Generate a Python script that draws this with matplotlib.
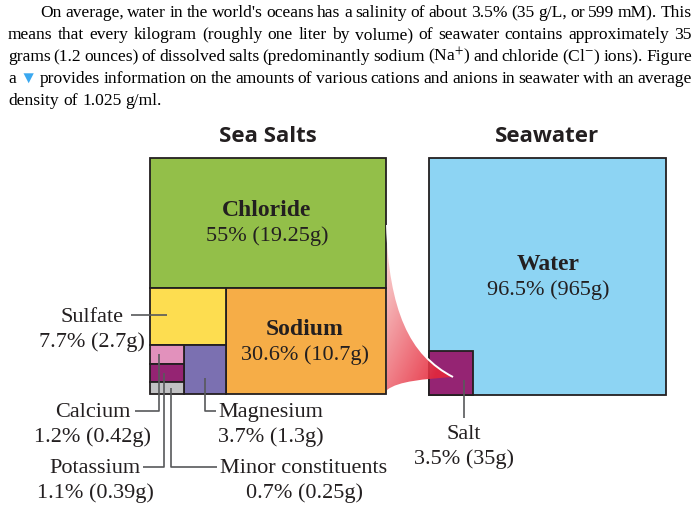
import numpy as np
import matplotlib.pyplot as plt
from matplotlib.patches import Rectangle, PathPatch
from matplotlib.path import Path

plt.rcParams['mathtext.fontset'] = 'stix'

# Datos
salt_names = ['Chloride', 'Sodium', 'Sulfate', 'Magnesium', 'Calcium', 'Potassium', 'Minor constituents']
salt_pct = [55, 30.6, 7.7, 3.7, 1.2, 1.1, 0.7]
salt_grams = [19.25, 10.7, 2.7, 1.3, 0.42, 0.39, 0.25]
salt_colors = ['#93bf49', '#f6ad47', '#fddd50', '#7b70b1', '#e291bc', '#952473', '#c1c1c3']

water_names = ['Water', 'Salt']
water_pct = [96.5, 3.5]
water_grams = [965, 35]
water_colors = ['#8dd4f3', '#952473']

para_lines = [
    "On average, water in the world's oceans has a salinity of about 3.5% (35 g/L, or 599 mM). This",
    "means that every kilogram (roughly one liter by volume) of seawater contains approximately 35",
    "grams (1.2 ounces) of dissolved salts (predominantly sodium (Na$^{+}$) and chloride (Cl$^{-}$) ions). Figure",
    "a \u25BC provides information on the amounts of various cations and anions in seawater with an average",
    "density of 1.025 g/ml.",
]

INK = '#231f20'
SERIF = ['Liberation Serif', 'DejaVu Serif']

fig = plt.figure(figsize=(7, 5.09), dpi=100)
ax = fig.add_axes([0, 0, 1, 1])
ax.set_xlim(0, 700)
ax.set_ylim(509, 0)
ax.axis('off')

# --- parrafo justificado ---
r = fig.canvas.get_renderer()
fs = 13
probe = [ax.text(0, 0, l, fontsize=fs, family=SERIF) for l in para_lines[:4]]
nat = [t.get_window_extent(r).width for t in probe]
for t in probe:
    t.remove()
targets = [650, 684, 684, 684]
ratio = max(n / tw for n, tw in zip(nat, targets))
if ratio > 1.02:
    fs = fs * 1.02 / ratio

baselines = [17, 39, 61, 83, 105]
for i, line in enumerate(para_lines):
    x0 = 40 if i == 0 else 8
    words = line.split(' ')
    ts = []
    for w in words:
        t = ax.text(0, baselines[i], w, fontsize=fs, family=['Liberation Serif', 'DejaVu Sans'],
                    va='baseline', color='black')
        if w == '\u25BC':
            t.set_color('#3aa8f0')
        ts.append(t)
    widths = [t.get_window_extent(r).width for t in ts]
    if i < 4:
        gap = (692 - x0 - sum(widths)) / (len(ts) - 1)
    else:
        gap = fs * 100 / 72 * 0.25
    x = x0
    for t, w in zip(ts, widths):
        t.set_x(x)
        x += w + gap

# --- treemap sales marinas ---
X0, Y0, S = 150, 158, 236
p = np.array(salt_pct) / 100.0
h_cl = S * p[0]
h2 = S - h_cl
w_na = S * S * p[1] / h2
w_l = S - w_na
h_su = h2 * p[2] / p[2:].sum()
h3 = h2 - h_su
w_mg = w_l * p[3] / p[3:].sum()
w_sm = w_l - w_mg

rects = [
    (X0, Y0, S, h_cl),
    (X0 + w_l, Y0 + h_cl, w_na, h2),
    (X0, Y0 + h_cl, w_l, h_su),
    (X0 + w_sm, Y0 + h_cl + h_su, w_mg, h3),
]
yy = Y0 + h_cl + h_su
for k in range(4, 7):
    hk = h3 * p[k] / p[4:].sum()
    rects.append((X0, yy, w_sm, hk))
    yy += hk

for (rx, ry, rw, rh), c in zip(rects, salt_colors):
    ax.add_patch(Rectangle((rx, ry), rw, rh, facecolor=c, edgecolor=INK, lw=1.3, zorder=2))

# --- agua de mar ---
WX0, WY0, WS = 429, 158, 237
salt_side = WS * np.sqrt(water_pct[1] / 100.0)
ax.add_patch(Rectangle((WX0, WY0), WS, WS, facecolor=water_colors[0], edgecolor=INK, lw=1.3, zorder=2))
ax.add_patch(Rectangle((WX0, WY0 + WS - salt_side), salt_side, salt_side,
                       facecolor=water_colors[1], edgecolor=INK, lw=1.3, zorder=3))

# --- embudo rojo ---
verts = [(387, 225), (390, 310), (410, 355), (453, 377),
         (425, 379), (398, 381), (387, 390), (387, 225)]
codes = [Path.MOVETO, Path.CURVE4, Path.CURVE4, Path.CURVE4,
         Path.CURVE4, Path.CURVE4, Path.CURVE4, Path.CLOSEPOLY]
fpath = Path(verts, codes)
patch = PathPatch(fpath, facecolor='none', edgecolor='none', zorder=4)
ax.add_patch(patch)
gx, gy = np.meshgrid(np.linspace(385, 456, 150), np.linspace(222, 394, 300))
tt = np.clip(0.6 * ((gy - 225) / 152.0) + 0.55 * ((gx - 387) / 66.0), 0, 1)
c0 = np.array([251, 226, 222]) / 255.0
c1 = np.array([230, 40, 58]) / 255.0
img = c0[None, None, :] * (1 - tt[..., None]) + c1[None, None, :] * tt[..., None]
im = ax.imshow(img, extent=(385, 456, 394, 222), origin='upper', zorder=4, alpha=0.88,
               aspect='auto', interpolation='bilinear')
im.set_clip_path(patch)
upper = Path(verts[:4], codes[:4])
ax.add_patch(PathPatch(upper, facecolor='none', edgecolor='white', lw=1.4, zorder=5))

# --- titulos ---
ax.text(X0 + S / 2, 142, 'Sea Salts', fontsize=16, family='Open Sans', weight='bold',
        ha='center', va='baseline', color=INK)
ax.text(WX0 + WS / 2, 142, 'Seawater', fontsize=16, family='Open Sans', weight='bold',
        ha='center', va='baseline', color=INK)

def lab(x, y, name, pct, g, bold=False, ha='center'):
    ax.text(x, y, name, fontsize=17 if bold else 16, family=SERIF,
            weight='bold' if bold else 'normal', ha=ha, va='baseline', color=INK, zorder=6)
    ax.text(x, y + 25, f'{pct:g}% ({g:g}g)', fontsize=16, family=SERIF,
            ha=ha, va='baseline', color=INK, zorder=6)

lab(267, 216, salt_names[0], salt_pct[0], salt_grams[0], bold=True)
lab(305, 335, salt_names[1], salt_pct[1], salt_grams[1], bold=True)
lab(548, 270, water_names[0], water_pct[0], water_grams[0], bold=True)
lab(92, 322, salt_names[2], salt_pct[2], salt_grams[2])
lab(271, 417, salt_names[3], salt_pct[3], salt_grams[3])
lab(93, 417, salt_names[4], salt_pct[4], salt_grams[4])
lab(95, 473, salt_names[5], salt_pct[5], salt_grams[5])
lab(304, 473, salt_names[6], salt_pct[6], salt_grams[6])
lab(464, 439, water_names[1], water_pct[1], water_grams[1])

# --- lineas guia ---
LC = '#58595b'
kw = dict(color=LC, lw=1.2, zorder=6, solid_capstyle='butt')
ax.plot([131, X0 + 17], [315, 315], **kw)
ca, k_, mi, mg = rects[4], rects[5], rects[6], rects[3]
ax.plot([135, X0 + 9, X0 + 9], [411, 411, ca[1] + ca[3] / 2], **kw)
ax.plot([143, X0 + 14, X0 + 14], [467, 467, k_[1] + k_[3] / 2], **kw)
ax.plot([217, X0 + 21, X0 + 21], [467, 467, mi[1] + mi[3] / 2], **kw)
ax.plot([216, mg[0] + mg[2] / 2, mg[0] + mg[2] / 2], [411, 411, mg[1] + 2 * mg[3] / 3], **kw)
ax.plot([WX0 + 35, WX0 + 35], [WY0 + WS - salt_side / 3, 418], **kw)

plt.savefig('out.png', dpi=100)
